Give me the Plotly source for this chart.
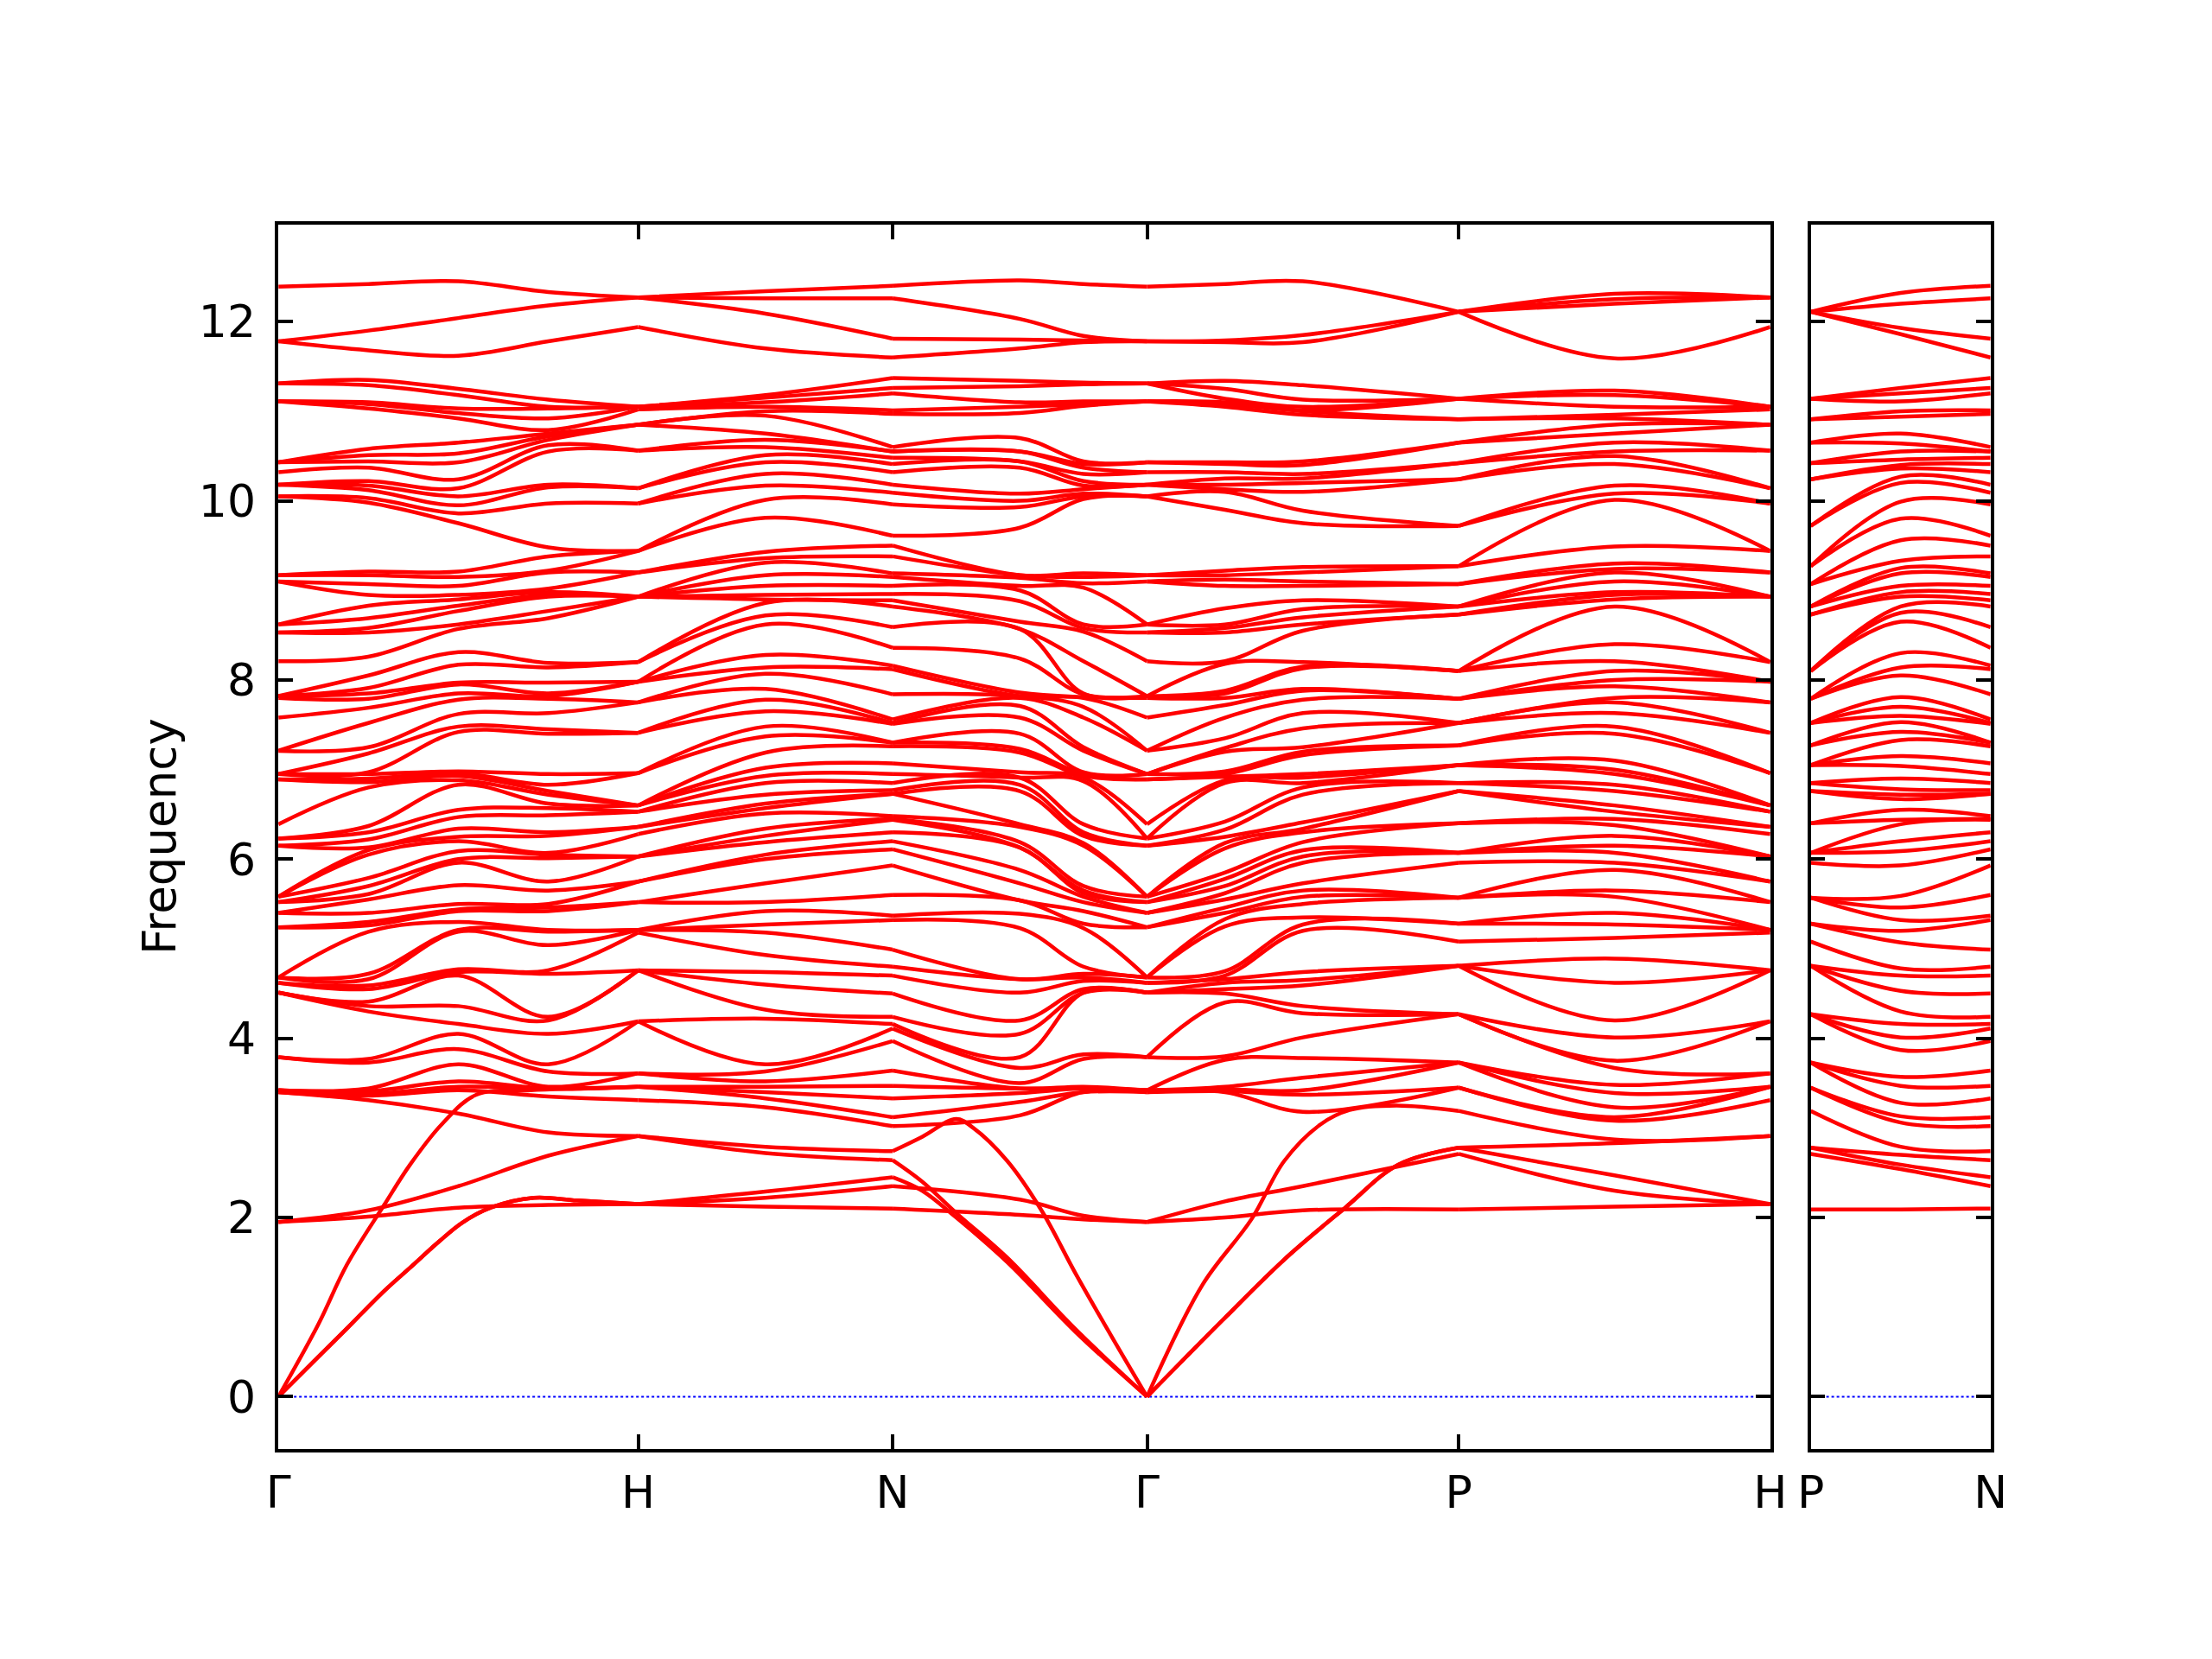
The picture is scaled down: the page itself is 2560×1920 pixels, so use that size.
import math
import plotly.graph_objects as go

# ---------------- k-path geometry (bcc Brillouin zone, units of 2*pi/a) ----------------
SEG_LEN = [1.0, 1 / math.sqrt(2), 1 / math.sqrt(2), math.sqrt(3) / 2, math.sqrt(3) / 2]
MAIN_LABELS = ["Γ", "H", "N", "Γ", "P", "H"]
SIDE_LABELS = ["P", "N"]
SIDE_LEN = 0.5
Y_TICKS = [0, 2, 4, 6, 8, 10, 12]
Y_RANGE = [-0.581, 13.085]

# ---------------- frequencies read at columns along the path ----------------
GAMMA_OPT = [12.39, 11.78, 11.78, 11.31, 11.31, 11.31, 11.11, 11.11, 11.11, 10.43, 10.43,
             10.32, 10.18, 10.18, 10.18, 10.05, 10.05, 9.17, 9.17, 9.10, 9.10, 8.62, 8.62,
             8.53, 8.53, 8.21, 7.82, 7.82, 7.82, 7.80, 7.58, 7.21, 7.21, 6.95, 6.95, 6.95,
             6.89, 6.89, 6.39, 6.23, 6.23, 6.15, 6.15, 5.58, 5.58, 5.58, 5.52, 5.52, 5.40,
             5.40, 5.24, 5.24, 4.68, 4.68, 4.68, 4.62, 4.62, 4.51, 4.51, 4.51, 3.79, 3.79,
             3.42, 3.42, 3.42, 3.40, 3.40, 1.95, 1.95]
# lines meeting Gamma from the H side / from the N side (same levels, other grouping)
GH_SWAP_OUT, GH_SWAP_IN = [11.31], [10.43]
NG_SWAP_OUT, NG_SWAP_IN = [11.31, 9.10, 8.53], [11.78, 10.05, 10.32]

GH_Q1 = [12.42, 11.90, 11.68, 11.35, 10.58, 11.29, 11.10, 11.08, 11.03, 10.51, 10.44, 10.37,
         10.22, 10.17, 10.12, 10.03, 9.98, 9.21, 9.17, 9.07, 8.95, 8.83, 8.69, 8.58, 8.53,
         8.26, 8.05, 7.91, 7.85, 7.79, 7.69, 7.52, 7.25, 7.18, 6.97, 6.95, 6.90, 6.86, 6.80,
         6.37, 6.30, 6.22, 6.13, 6.10, 6.05, 5.79, 5.70, 5.61, 5.55, 5.40, 5.30, 5.26, 5.19,
         4.72, 4.66, 4.59, 4.55, 4.41, 4.36, 4.30, 3.77, 3.73, 3.44, 3.41, 3.38, 3.36, 3.31,
         2.08, 2.01]

GH_Q2 = [12.45, 12.04, 11.62, 11.25, 11.18, 11.03, 10.98, 10.92, 10.65, 10.53, 10.43, 10.24,
         10.14, 10.05, 9.95, 9.86, 9.75, 9.21, 9.15, 9.05, 8.95, 8.90, 8.83, 8.77, 8.62, 8.57,
         8.31, 8.17, 7.95, 7.97, 7.85, 7.78, 7.62, 7.48, 7.42, 6.98, 6.88, 6.96, 6.93, 6.83,
         6.55, 6.47, 6.34, 6.25, 6.20, 6.09, 6.00, 5.96, 5.71, 5.50, 5.44, 5.42, 5.30, 5.21,
         5.19, 4.77, 4.74, 4.70, 4.36, 4.16, 4.05, 3.88, 3.71, 3.52, 3.46, 3.42, 3.16, 2.35,
         2.11]

GH_Q3 = [12.33, 12.18, 11.78, 11.13, 11.05, 11.03, 10.92, 10.79, 10.75, 10.72, 10.55, 10.18,
         10.15, 9.97, 9.48, 9.38, 9.22, 9.20, 9.02, 8.98, 8.95, 8.93, 10.68, 10.62, 8.77, 8.69,
         8.19, 8.14, 7.97, 7.85, 7.82, 7.79, 7.63, 7.45, 7.40, 6.95, 6.83, 6.76, 6.72, 6.62,
         6.57, 6.49, 6.30, 6.26, 6.07, 6.05, 6.01, 5.75, 5.65, 5.50, 5.46, 5.42, 5.21, 5.19,
         5.04, 4.76, 4.72, 4.24, 4.20, 4.05, 3.71, 3.63, 3.46, 3.44, 3.44, 3.35, 2.95, 2.69,
         2.14]

H_GH = [12.27, 12.27, 11.94, 11.05, 11.05, 11.05, 11.05, 11.02, 10.85, 10.85, 10.85, 10.56,
        10.56, 10.14, 10.14, 9.97, 9.44, 9.44, 9.44, 9.20, 9.20, 8.93, 8.93, 8.93, 8.93, 8.93,
        8.20, 8.20, 7.98, 7.98, 7.98, 7.75, 7.75, 7.41, 7.41, 6.96, 6.96, 6.60, 6.60, 6.60,
        6.53, 6.53, 6.36, 6.36, 6.28, 6.03, 6.03, 6.03, 5.75, 5.75, 5.52, 5.52, 5.21, 5.21,
        5.21, 5.18, 4.76, 4.76, 4.76, 4.19, 4.19, 3.61, 3.61, 3.46, 3.46, 3.31, 2.91, 2.91,
        2.15]

H_FULL = [12.27, 12.27, 12.27, 11.94, 11.05, 11.05, 11.05, 11.02, 10.85, 10.85, 10.85, 10.56,
          10.56, 10.14, 10.14, 9.97, 9.97, 9.44, 9.44, 9.20, 9.20, 8.93, 8.93, 8.93, 8.93, 8.93,
          8.20, 8.20, 7.98, 7.98, 7.98, 7.75, 7.75, 7.41, 7.41, 6.96, 6.96, 6.60, 6.60, 6.60,
          6.53, 6.53, 6.36, 6.36, 6.28, 6.03, 6.03, 6.03, 5.75, 5.75, 5.52, 5.52, 5.21, 5.21,
          5.21, 5.18, 4.76, 4.76, 4.76, 4.19, 4.19, 3.61, 3.61, 3.46, 3.46, 3.46, 3.31, 2.91,
          2.91, 2.15, 2.15, 2.15]

HN_MID = [12.34, 12.26, 12.09, 11.70, 11.18, 11.15, 11.10, 11.05, 11.00, 10.95, 10.75, 10.68,
          10.60, 10.51, 10.43, 10.30, 10.17, 10.01, 9.81, 9.43, 9.36, 9.31, 9.17, 9.05, 8.95,
          8.90, 8.86, 8.72, 8.62, 8.28, 8.14, 8.07, 7.90, 7.78, 7.65, 7.48, 7.37, 7.19, 7.02,
          6.93, 6.85, 6.72, 6.62, 6.57, 6.51, 6.34, 6.26, 6.19, 6.05, 6.00, 5.73, 5.52, 5.42,
          5.27, 5.18, 4.93, 4.74, 4.60, 4.32, 4.22, 3.71, 3.63, 3.52, 3.46, 3.40, 3.33, 3.23,
          2.79, 2.72, 2.29, 2.22, 2.12]

N_FULL = [12.40, 12.26, 11.81, 11.60, 11.37, 11.26, 11.20, 11.01, 10.97, 10.60, 10.55, 10.55,
          10.48, 10.41, 10.32, 10.18, 10.09, 9.96, 9.61, 9.50, 9.38, 9.19, 9.15, 9.05, 8.96,
          8.89, 8.82, 8.59, 8.36, 8.16, 8.12, 7.84, 7.56, 7.52, 7.51, 7.30, 7.30, 7.26, 7.07,
          6.95, 6.85, 6.77, 6.73, 6.73, 6.48, 6.45, 6.44, 6.30, 6.20, 6.11, 5.93, 5.60, 5.37,
          5.32, 4.99, 4.80, 4.70, 4.50, 4.24, 4.16, 4.11, 3.97, 3.64, 3.47, 3.33, 3.12, 3.02,
          2.74, 2.64, 2.45, 2.35, 2.10]

NG_MID = [12.46, 12.03, 11.80, 11.70, 11.34, 10.70, 11.28, 11.10, 11.05, 10.98, 10.55, 10.55,
          10.44, 10.44, 10.37, 10.08, 10.00, 9.93, 9.70, 9.17, 9.17, 9.14, 9.05, 9.00, 8.88,
          8.65, 8.57, 8.57, 8.24, 7.86, 7.82, 7.82, 7.80, 7.71, 7.58, 7.40, 7.23, 7.19, 6.97,
          6.91, 6.91, 6.83, 6.76, 6.39, 6.36, 6.19, 6.13, 6.13, 5.88, 5.73, 5.54, 5.54, 5.39,
          5.23, 4.66, 4.66, 4.51, 4.20, 4.05, 3.79, 3.67, 3.50, 3.44, 3.44, 3.39, 3.29, 3.14,
          2.20, 2.03]

NG_Q3 = [12.42, 11.84, 11.79, 11.77, 11.32, 11.30, 11.11, 11.08, 11.06, 10.44, 10.41, 10.37,
         10.30, 10.22, 10.17, 10.13, 10.05, 10.08, 9.19, 9.15, 9.08, 9.03, 10.02, 8.62, 8.58,
         8.54, 8.21, 7.85, 7.84, 7.81, 7.80, 7.70, 7.58, 7.25, 7.21, 6.97, 6.95, 6.93, 6.91,
         6.87, 6.39, 6.30, 6.26, 6.18, 6.15, 5.70, 5.65, 5.62, 5.58, 5.52, 5.42, 5.28, 5.23,
         4.80, 4.72, 4.68, 4.64, 4.55, 4.51, 4.51, 3.82, 3.77, 3.46, 3.44, 3.44, 3.40, 3.40,
         2.02, 1.98]

GP_Q1 = [12.42, 11.79, 11.77, 11.34, 11.25, 11.14, 11.10, 11.08, 11.05, 10.43, 10.41, 10.32,
         10.25, 10.18, 10.13, 10.10, 9.90, 9.22, 9.17, 9.12, 9.05, 8.80, 8.62, 8.58, 8.53,
         8.21, 8.18, 7.88, 7.85, 7.80, 7.72, 7.58, 7.35, 7.24, 7.20, 6.98, 6.95, 6.92, 6.88,
         6.85, 6.42, 6.33, 6.25, 6.18, 6.12, 5.85, 5.78, 5.70, 5.62, 5.55, 5.46, 5.40, 5.33,
         5.25, 4.75, 4.70, 4.66, 4.62, 4.55, 4.50, 4.40, 3.80, 3.76, 3.46, 3.43, 3.41, 3.40,
         2.18, 2.00]

GP_MID = [12.45, 11.85, 11.77, 11.29, 11.13, 11.05, 11.01, 11.00, 10.96, 10.44, 10.40, 10.30,
          10.25, 10.20, 10.10, 9.89, 9.75, 9.26, 9.20, 9.10, 9.05, 8.89, 8.79, 8.70, 8.62,
          8.55, 8.20, 8.15, 8.13, 7.90, 7.88, 7.78, 7.63, 7.46, 7.25, 7.20, 7.16, 6.95, 6.91,
          6.85, 6.80, 6.72, 6.41, 6.34, 6.30, 6.19, 6.10, 6.03, 5.96, 5.73, 5.65, 5.58, 5.50,
          5.35, 5.27, 5.20, 4.74, 4.65, 4.59, 4.36, 4.28, 4.01, 3.78, 3.56, 3.42, 3.37, 3.18,
          2.35, 2.08]

P_FULL = [12.11, 12.11, 12.11, 12.11, 11.14, 11.14, 11.14, 10.91, 10.91, 10.65, 10.65, 10.42,
          10.42, 10.24, 10.24, 9.72, 9.72, 9.27, 9.27, 9.07, 9.07, 8.82, 8.82, 8.82, 8.73,
          8.73, 8.10, 8.10, 8.10, 7.79, 7.79, 7.79, 7.52, 7.52, 7.52, 7.27, 7.27, 7.05, 7.05,
          7.05, 6.85, 6.85, 6.76, 6.76, 6.40, 6.40, 6.07, 6.07, 6.07, 5.96, 5.57, 5.57, 5.57,
          5.28, 5.28, 5.08, 4.81, 4.81, 4.81, 4.27, 4.27, 4.27, 3.73, 3.73, 3.73, 3.45, 3.45,
          3.19, 2.78, 2.78, 2.71, 2.09]
P_GP_EXTRA = [11.14]   # on the Gamma-P side one of the 12.11 lines belongs to the 11.14 group

PH_MID = [12.31, 12.25, 12.20, 11.59, 11.23, 11.18, 11.05, 10.96, 10.92, 10.85, 10.75, 10.65,
          10.55, 10.50, 10.41, 10.17, 10.08, 10.01, 9.49, 9.30, 9.24, 9.20, 9.10, 8.98, 8.95,
          8.90, 8.82, 8.40, 8.21, 8.10, 8.00, 7.93, 7.80, 7.75, 7.63, 7.48, 7.40, 7.10, 7.00,
          6.95, 6.83, 6.76, 6.60, 6.53, 6.45, 6.38, 6.26, 6.15, 6.07, 5.96, 5.88, 5.65, 5.58,
          5.40, 5.27, 5.12, 4.89, 4.62, 4.20, 4.01, 3.75, 3.67, 3.48, 3.39, 3.23, 3.12, 3.08,
          2.87, 2.83, 2.47, 2.30, 2.12]

PN_MID = [12.32, 12.20, 11.93, 11.86, 11.26, 11.20, 11.11, 11.00, 10.94, 10.75, 10.64, 10.55,
          10.46, 10.40, 10.36, 10.27, 10.20, 9.99, 9.80, 9.56, 9.33, 9.25, 9.19, 8.98, 9.05,
          8.93, 8.82, 8.75, 8.65, 8.30, 8.14, 8.05, 7.81, 7.70, 7.60, 7.53, 7.42, 7.33, 7.15,
          7.04, 6.90, 6.78, 6.72, 6.67, 6.55, 6.44, 6.39, 6.20, 6.09, 5.93, 5.59, 5.46, 5.32,
          5.20, 5.07, 4.78, 4.70, 4.53, 4.30, 4.16, 4.01, 3.87, 3.57, 3.47, 3.28, 3.13, 3.06,
          2.79, 2.70, 2.59, 2.54, 2.09]

# ---------------- acoustic branches (fraction along segment, frequency) ----------------
GH_LA_T = [0, 0.11, 0.19, 0.294, 0.366, 0.454, 0.55, 0.70, 0.85, 1.0]
GH_LA_F = [0, 0.80, 1.47, 2.14, 2.59, 3.04, 3.37, 3.42, 3.44, 3.46]
GH_TA_T = [0, 0.10, 0.19, 0.294, 0.366, 0.446, 0.51, 0.59, 0.71, 0.83, 1.0]
GH_TA_F = [0, 0.40, 0.76, 1.18, 1.44, 1.73, 1.94, 2.11, 2.22, 2.19, 2.15]

NG_LA_T = [0, 0.116, 0.25, 0.317, 0.451, 0.585, 0.72, 0.855, 1.0]
NG_LA_F = [2.74, 2.90, 3.10, 3.00, 2.63, 2.08, 1.37, 0.70, 0]
NG_TA_T = [0, 0.116, 0.25, 0.451, 0.72, 1.0]
NG_TA1_F = [2.64, 2.40, 2.05, 1.55, 0.75, 0]
NG_TA2_F = [2.45, 2.30, 2.00, 1.50, 0.72, 0]

GP_LA_T = [0, 0.178, 0.335, 0.44, 0.557, 0.65, 0.80, 1.0]
GP_LA_F = [0, 1.25, 1.98, 2.63, 3.04, 3.20, 3.25, 3.19]
GP_TA_T = [0, 0.244, 0.44, 0.636, 0.806, 1.0]
GP_TA_F = [0, 0.86, 1.53, 2.11, 2.59, 2.78]


# ---------------- helpers ----------------
def without(col, vals):
    c = list(col)
    for v in vals:
        c.remove(v)
    return c


GAMMA_GH = without(GAMMA_OPT, GH_SWAP_OUT) + GH_SWAP_IN
GAMMA_NG = without(GAMMA_OPT, NG_SWAP_OUT) + NG_SWAP_IN
N_OPT = without(N_FULL, [NG_LA_F[0], NG_TA1_F[0], NG_TA2_F[0]])
P_GP = without(P_FULL, [GP_LA_F[-1], GP_TA_F[-1], GP_TA_F[-1], 12.11]) + P_GP_EXTRA

cum = [0.0]
for L in SEG_LEN:
    cum.append(cum[-1] + L)


def seg_x(i, fracs):
    return [cum[i] + f * SEG_LEN[i] for f in fracs]


def pick(col, i, n):
    if len(col) == n:
        return col[i]
    j = round(i * (len(col) - 1) / (n - 1))
    return col[j]


def sorted_bands(cols, xs, X, Y):
    cols = [sorted(c, reverse=True) for c in cols]
    n = max(len(c) for c in cols)
    for i in range(n):
        for x, c in zip(xs, cols):
            X.append(x)
            Y.append(pick(c, i, n))
        X.append(None)
        Y.append(None)


def curve(xs, ys, X, Y):
    X.extend(xs)
    Y.extend(ys)
    X.append(None)
    Y.append(None)


MX, MY = [], []
sorted_bands([GAMMA_GH, GH_Q1, GH_Q2, GH_Q3, H_GH], seg_x(0, [0, 0.25, 0.5, 0.75, 1]), MX, MY)
sorted_bands([H_FULL, HN_MID, N_FULL], seg_x(1, [0, 0.5, 1]), MX, MY)
sorted_bands([N_OPT, NG_MID, NG_Q3, GAMMA_NG], seg_x(2, [0, 0.5, 0.75, 1]), MX, MY)
sorted_bands([GAMMA_OPT, GP_Q1, GP_MID, P_GP], seg_x(3, [0, 0.25, 0.5, 1]), MX, MY)
sorted_bands([P_FULL, PH_MID, H_FULL], seg_x(4, [0, 0.5, 1]), MX, MY)

curve(seg_x(0, GH_LA_T), GH_LA_F, MX, MY)
curve(seg_x(0, GH_TA_T), GH_TA_F, MX, MY)
curve(seg_x(0, GH_TA_T), GH_TA_F, MX, MY)
curve(seg_x(2, NG_LA_T), NG_LA_F, MX, MY)
curve(seg_x(2, NG_TA_T), NG_TA1_F, MX, MY)
curve(seg_x(2, NG_TA_T), NG_TA2_F, MX, MY)
curve(seg_x(3, GP_LA_T), GP_LA_F, MX, MY)
curve(seg_x(3, GP_TA_T), GP_TA_F, MX, MY)
curve(seg_x(3, GP_TA_T), GP_TA_F, MX, MY)

SX, SY = [], []
sorted_bands([P_FULL, PN_MID, N_FULL], [0, SIDE_LEN / 2, SIDE_LEN], SX, SY)

# ---------------- figure ----------------
FONT = "DejaVu Sans"
RED = dict(color="red", width=4.5, shape="spline", smoothing=1.0)
ZERO = dict(color="blue", width=2, dash="dot")

fig = go.Figure()
fig.add_trace(go.Scatter(x=[0, cum[-1]], y=[0, 0], mode="lines", line=ZERO,
                         xaxis="x", yaxis="y", hoverinfo="skip"))
fig.add_trace(go.Scatter(x=[0, SIDE_LEN], y=[0, 0], mode="lines", line=ZERO,
                         xaxis="x2", yaxis="y2", hoverinfo="skip"))
fig.add_trace(go.Scatter(x=MX, y=MY, mode="lines", line=RED, xaxis="x", yaxis="y",
                         hoverinfo="skip", connectgaps=False))
fig.add_trace(go.Scatter(x=SX, y=SY, mode="lines", line=RED, xaxis="x2", yaxis="y2",
                         hoverinfo="skip", connectgaps=False))

axis_common = dict(
    showline=True, linewidth=3.5, linecolor="black", mirror="ticks",
    ticks="inside", ticklen=17, tickwidth=3.5, tickcolor="black",
    showgrid=False, zeroline=False, automargin=False,
    tickfont=dict(family=FONT, size=52, color="black"),
)

Y_DOM = [0.12674, 0.86471]
fig.update_layout(
    width=2560, height=1920, autosize=False,
    margin=dict(l=0, r=0, t=0, b=0, pad=0, autoexpand=False),
    paper_bgcolor="white", plot_bgcolor="white",
    showlegend=False,
    font=dict(family=FONT, color="black"),
    xaxis=dict(domain=[0.12585, 0.80030], range=[0, cum[-1]], tickmode="array",
               tickvals=cum, ticktext=MAIN_LABELS, anchor="y", ticklabelstandoff=2,
               **axis_common),
    yaxis=dict(domain=Y_DOM, range=Y_RANGE, tickmode="array", tickvals=Y_TICKS,
               ticktext=[str(v) for v in Y_TICKS], anchor="x", ticklabelstandoff=12,
               **axis_common),
    xaxis2=dict(domain=[0.81860, 0.89990], range=[0, SIDE_LEN], tickmode="array",
                tickvals=[0, SIDE_LEN], ticktext=SIDE_LABELS, anchor="y2",
                ticklabelstandoff=2, **axis_common),
    yaxis2=dict(domain=Y_DOM, range=Y_RANGE, tickmode="array", tickvals=Y_TICKS,
                showticklabels=False, anchor="x2", **axis_common),
    annotations=[dict(text="Frequency", x=0.0718, y=(Y_DOM[0] + Y_DOM[1]) / 2,
                      xref="paper", yref="paper", showarrow=False, textangle=-90,
                      xanchor="center", yanchor="middle",
                      font=dict(family=FONT, size=53, color="black"))],
)

fig.write_html("out.html", config={"responsive": False, "displayModeBar": False},
               default_width="2560px", default_height="1920px",
               post_script="document.body.style.margin='0px';document.body.style.overflow='hidden';")
